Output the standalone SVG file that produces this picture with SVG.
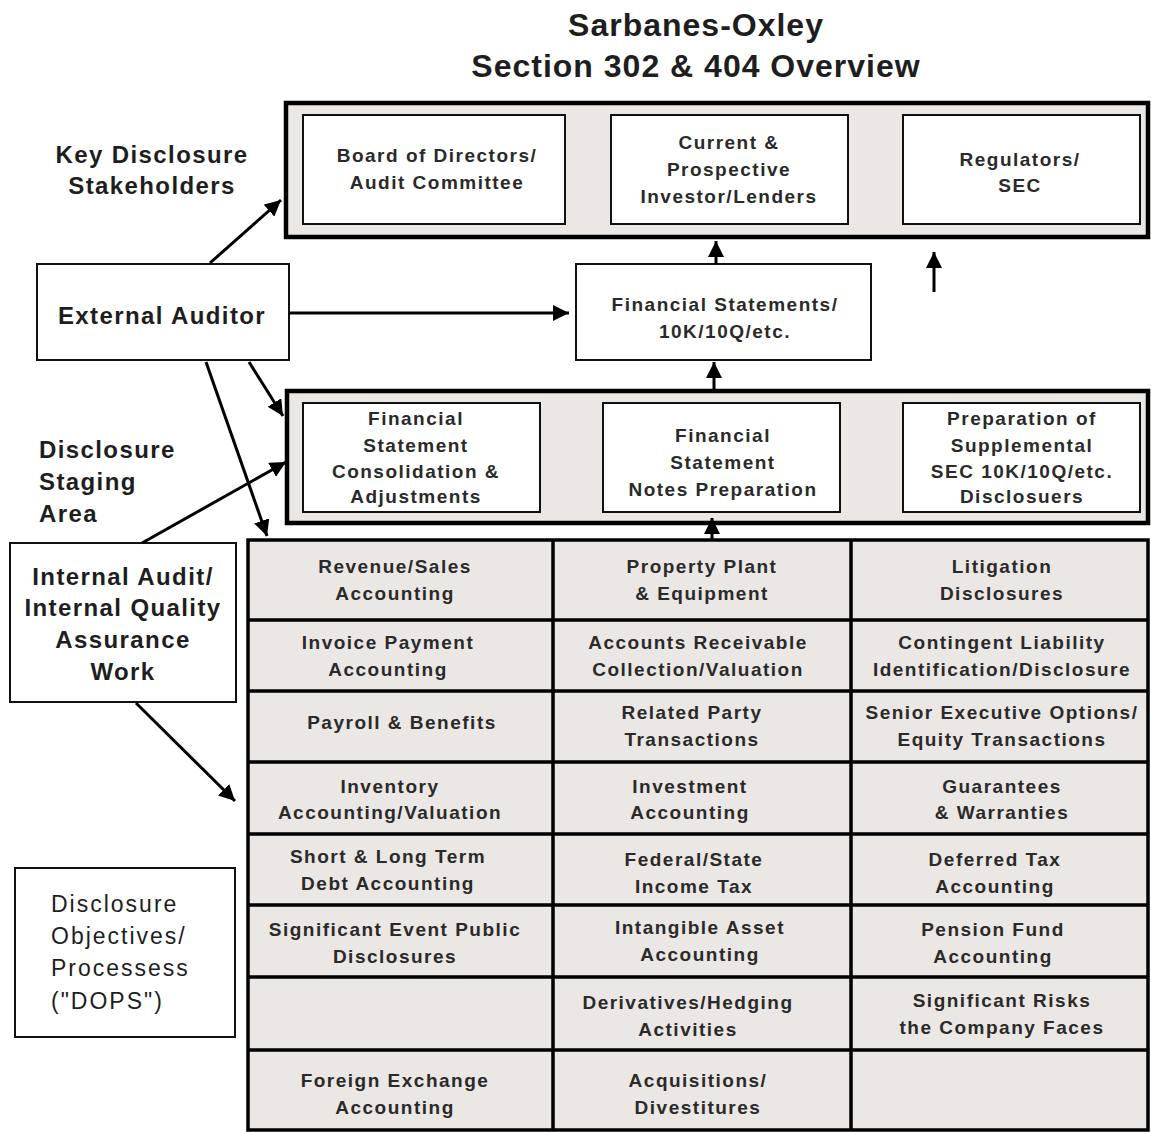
<svg xmlns="http://www.w3.org/2000/svg" width="1151" height="1132" viewBox="0 0 1151 1132">
<style>
.t{font-family:"Liberation Sans",Arial,sans-serif;fill:#1e1e1e;text-anchor:middle}
.title{font-size:32px;font-weight:bold;letter-spacing:1px}
.lbl{font-size:24px;font-weight:bold;letter-spacing:1.4px}
.lbl-l{font-size:24px;font-weight:bold;letter-spacing:1.4px;text-anchor:start}
.reg{font-size:23px;letter-spacing:2px;text-anchor:start}
.bx{font-size:19px;font-weight:bold;letter-spacing:1.5px;fill:#2a2a2a}
.grp{fill:#ebe7e4;stroke:#000;stroke-width:4.5}
.wb{fill:#fff;stroke:#111;stroke-width:2}
.grid{fill:none;stroke:#000;stroke-width:3.5}
.con{stroke:#000;stroke-width:3;fill:none;marker-end:url(#ah)}
</style>
<defs>
<marker id="ah" markerUnits="userSpaceOnUse" markerWidth="18" markerHeight="16" refX="16" refY="8" orient="auto">
<path d="M0,0 L16,8 L0,16 Z" fill="#000"/>
</marker>
</defs>
<rect width="1151" height="1132" fill="#fff"/>

<g id="title">
<text class="t title" x="696" y="36">Sarbanes-Oxley</text>
<text class="t title" x="696" y="77">Section 302 &amp; 404 Overview</text>
</g>

<g id="key-disclosure-label">
<text class="t lbl" x="152" y="163">Key Disclosure</text>
<text class="t lbl" x="152" y="194">Stakeholders</text>
</g>

<g id="stakeholders-group">
<rect class="grp" x="286" y="103" width="862" height="134"/>
</g>
<g id="board">
<rect class="wb" x="303" y="115" width="262" height="109"/>
<text class="t bx" x="437" y="162">Board of Directors/</text>
<text class="t bx" x="437" y="189">Audit Committee</text>
</g>
<g id="investors">
<rect class="wb" x="611" y="115" width="237" height="109"/>
<text class="t bx" x="729" y="149">Current &amp;</text>
<text class="t bx" x="729" y="176">Prospective</text>
<text class="t bx" x="729" y="203">Investor/Lenders</text>
</g>
<g id="regulators">
<rect class="wb" x="903" y="115" width="237" height="109"/>
<text class="t bx" x="1020" y="166">Regulators/</text>
<text class="t bx" x="1020" y="192">SEC</text>
</g>

<g id="external-auditor">
<rect class="wb" x="37" y="264" width="252" height="96"/>
<text class="t lbl" x="162" y="324">External Auditor</text>
</g>

<g id="financial-statements">
<rect class="wb" x="576" y="264" width="295" height="96"/>
<text class="t bx" x="725" y="311">Financial Statements/</text>
<text class="t bx" x="725" y="338">10K/10Q/etc.</text>
</g>

<g id="staging-label">
<text class="t lbl-l" x="39" y="458">Disclosure</text>
<text class="t lbl-l" x="39" y="490">Staging</text>
<text class="t lbl-l" x="39" y="522">Area</text>
</g>

<g id="staging-group">
<rect class="grp" x="287" y="391" width="861" height="132"/>
</g>
<g id="consolidation">
<rect class="wb" x="303" y="403" width="237" height="109"/>
<text class="t bx" x="416" y="425">Financial</text>
<text class="t bx" x="416" y="452">Statement</text>
<text class="t bx" x="416" y="478">Consolidation &amp;</text>
<text class="t bx" x="416" y="503">Adjustments</text>
</g>
<g id="notes">
<rect class="wb" x="603" y="403" width="237" height="109"/>
<text class="t bx" x="723" y="442">Financial</text>
<text class="t bx" x="723" y="469">Statement</text>
<text class="t bx" x="723" y="496">Notes Preparation</text>
</g>
<g id="supplemental">
<rect class="wb" x="903" y="403" width="237" height="109"/>
<text class="t bx" x="1022" y="425">Preparation of</text>
<text class="t bx" x="1022" y="452">Supplemental</text>
<text class="t bx" x="1022" y="478">SEC 10K/10Q/etc.</text>
<text class="t bx" x="1022" y="503">Disclosuers</text>
</g>

<g id="internal-audit">
<rect class="wb" x="10" y="543" width="226" height="159"/>
<text class="t lbl" x="123" y="585">Internal Audit/</text>
<text class="t lbl" x="123" y="616">Internal Quality</text>
<text class="t lbl" x="123" y="648">Assurance</text>
<text class="t lbl" x="123" y="680">Work</text>
</g>

<g id="dops">
<rect class="wb" x="15" y="868" width="220" height="169"/>
<text class="t reg" x="51" y="912">Disclosure</text>
<text class="t reg" x="51" y="944">Objectives/</text>
<text class="t reg" x="51" y="976">Processess</text>
<text class="t reg" x="51" y="1009">("DOPS")</text>
</g>

<g id="dops-grid">
<rect x="248" y="540" width="900" height="590" fill="#ebe7e4"/>
<path class="grid" d="M248,540H1148V1130H248Z M553,540V1130 M851,540V1130 M248,620H1148 M248,691H1148 M248,762H1148 M248,834H1148 M248,905H1148 M248,977H1148 M248,1050H1148"/>
</g>
<g id="cell-revenue"><text class="t bx" x="395" y="573">Revenue/Sales</text><text class="t bx" x="395" y="600">Accounting</text></g>
<g id="cell-ppe"><text class="t bx" x="702" y="573">Property Plant</text><text class="t bx" x="702" y="600">&amp; Equipment</text></g>
<g id="cell-litigation"><text class="t bx" x="1002" y="573">Litigation</text><text class="t bx" x="1002" y="600">Disclosures</text></g>

<g id="cell-invoice"><text class="t bx" x="388" y="649">Invoice Payment</text><text class="t bx" x="388" y="676">Accounting</text></g>
<g id="cell-ar"><text class="t bx" x="698" y="649">Accounts Receivable</text><text class="t bx" x="698" y="676">Collection/Valuation</text></g>
<g id="cell-contingent"><text class="t bx" x="1002" y="649">Contingent Liability</text><text class="t bx" x="1002" y="676">Identification/Disclosure</text></g>

<g id="cell-payroll"><text class="t bx" x="402" y="729">Payroll &amp; Benefits</text></g>
<g id="cell-related"><text class="t bx" x="692" y="719">Related Party</text><text class="t bx" x="692" y="746">Transactions</text></g>
<g id="cell-senior"><text class="t bx" x="1002" y="719">Senior Executive Options/</text><text class="t bx" x="1002" y="746">Equity Transactions</text></g>

<g id="cell-inventory"><text class="t bx" x="390" y="793">Inventory</text><text class="t bx" x="390" y="819">Accounting/Valuation</text></g>
<g id="cell-investment"><text class="t bx" x="690" y="793">Investment</text><text class="t bx" x="690" y="819">Accounting</text></g>
<g id="cell-guarantees"><text class="t bx" x="1002" y="793">Guarantees</text><text class="t bx" x="1002" y="819">&amp; Warranties</text></g>

<g id="cell-debt"><text class="t bx" x="388" y="863">Short &amp; Long Term</text><text class="t bx" x="388" y="890">Debt Accounting</text></g>
<g id="cell-tax"><text class="t bx" x="694" y="866">Federal/State</text><text class="t bx" x="694" y="893">Income Tax</text></g>
<g id="cell-deferred"><text class="t bx" x="995" y="866">Deferred Tax</text><text class="t bx" x="995" y="893">Accounting</text></g>

<g id="cell-event"><text class="t bx" x="395" y="936">Significant Event Public</text><text class="t bx" x="395" y="963">Disclosures</text></g>
<g id="cell-intangible"><text class="t bx" x="700" y="934">Intangible Asset</text><text class="t bx" x="700" y="961">Accounting</text></g>
<g id="cell-pension"><text class="t bx" x="993" y="936">Pension Fund</text><text class="t bx" x="993" y="963">Accounting</text></g>

<g id="cell-derivatives"><text class="t bx" x="688" y="1009">Derivatives/Hedging</text><text class="t bx" x="688" y="1036">Activities</text></g>
<g id="cell-risks"><text class="t bx" x="1002" y="1007">Significant Risks</text><text class="t bx" x="1002" y="1034">the Company Faces</text></g>

<g id="cell-fx"><text class="t bx" x="395" y="1087">Foreign Exchange</text><text class="t bx" x="395" y="1114">Accounting</text></g>
<g id="cell-acq"><text class="t bx" x="698" y="1087">Acquisitions/</text><text class="t bx" x="698" y="1114">Divestitures</text></g>

<g id="connectors">
<line class="con" x1="210" y1="263" x2="281" y2="200"/>
<line class="con" x1="289" y1="313" x2="569" y2="313"/>
<line class="con" x1="716" y1="264" x2="716" y2="241"/>
<line class="con" x1="934" y1="292" x2="934" y2="252"/>
<line class="con" x1="714" y1="390" x2="714" y2="362"/>
<line class="con" x1="712" y1="540" x2="712" y2="518"/>
<line class="con" x1="249" y1="362" x2="283" y2="416"/>
<line class="con" x1="206" y1="362" x2="267" y2="536"/>
<line class="con" x1="142" y1="543" x2="286" y2="462"/>
<line class="con" x1="136" y1="703" x2="235" y2="801"/>
</g>
</svg>
